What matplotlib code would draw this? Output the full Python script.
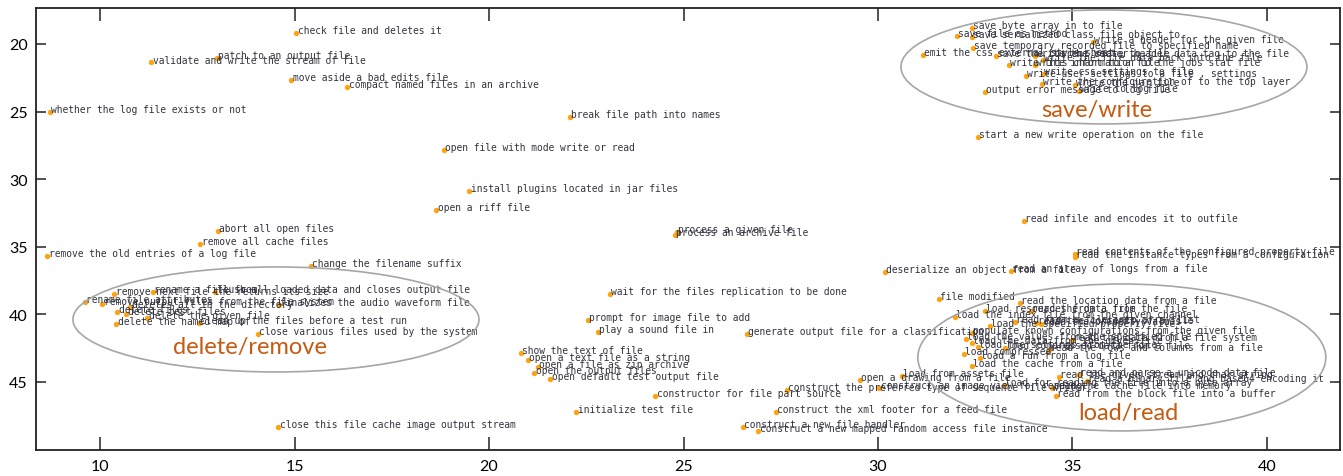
import matplotlib
matplotlib.use('Agg')
import matplotlib.pyplot as plt
from matplotlib.patches import Ellipse

# scattered descriptions outside the three clusters
other_labels = [
    'check file and deletes it', 'patch to an output file', 'validate and write the stream of file',
    'move aside a bad edits file', 'compact named files in an archive', 'whether the log file exists or not',
    'break file path into names', 'open file with mode write or read', 'install plugins located in jar files',
    'open a riff file', 'process a given file', 'process an archive file', 'abort all open files',
    'remove all cache files', 'remove the old entries of a log file', 'change the filename suffix',
    'deserialize an object from a file', 'read an array of longs from a file',
    'read infile and encodes it to outfile', 'read contents of the configured property file',
    'read the instance types from a configuration', 'start a new write operation on the file',
    'wait for the files replication to be done', 'prompt for image file to add', 'play a sound file in',
    'generate output file for a classification', 'show the text of file', 'open a text file as a string',
    'open a file as zip archive', 'open the output files', 'open default test output file',
    'constructor for file part source', 'construct the preferred type of sequence file writer',
    'open a drawing from a file', 'construct an image view for reading', 'load from assets file',
    'initialize test file', 'construct the xml footer for a feed file', 'construct a new file handler',
    'construct a new mapped random access file instance', 'close this file cache image output stream',
]
other_x = [15.04, 13.0, 11.31, 14.91, 16.35, 8.71, 22.08, 18.84, 19.49, 18.64, 24.83, 24.78, 13.03, 12.57,
           8.64, 15.42, 30.18, 33.42, 33.75, 35.06, 35.06, 32.57, 23.11, 22.54, 22.8, 26.63, 20.82, 21.0,
           21.26, 21.16, 21.57, 24.27, 27.66, 29.54, 30.03, 30.62, 22.24, 27.38, 26.53, 26.92, 14.58]
other_y = [19.19, 21.04, 21.37, 22.66, 23.18, 25.03, 25.4, 27.84, 30.87, 32.28, 33.9, 34.13, 33.83, 34.79,
           35.68, 36.42, 36.86, 36.79, 33.09, 35.53, 35.75, 26.88, 38.49, 40.41, 41.3, 41.45, 42.85, 43.37,
           43.89, 44.33, 44.78, 46.04, 45.6, 44.85, 45.44, 44.56, 47.2, 47.2, 48.33, 48.62, 48.33]

delete_labels = [
    'rename a file from', 'flush all loaded data and closes output file', 'remove next file the returns its size',
    'rename file attributes', 'remove output files from the file system', 'finalizes the audio waveform file',
    'deletes all in the directory', 'delete files', 'delete test files', 'delete the given file',
    'clean up the files before a test run', 'delete the named map of', 'close various files used by the system',
]
delete_x = [11.36, 12.96, 10.36, 9.61, 10.05, 14.6, 10.77, 10.44, 10.67, 11.21, 12.54, 10.41, 14.06]
delete_y = [38.34, 38.34, 38.49, 39.08, 39.23, 39.3, 39.45, 39.82, 39.97, 40.27, 40.64, 40.71, 41.45]

save_labels = [
    'save byte array in to file', 'save serialized class file object to', 'save file as method',
    'write a header for the given file', 'save temporary recorded file to specified name',
    'emit the css external style sheet', 'save the current state to file',
    'write the vector header data tag to the file', 'write this chart to a file',
    'write the file data back into the file', 'write information to the jobs stat file',
    'write user settings to a file , settings', 'write css settings to file',
    'write the configuration of to the top layer', 'write the jar file',
    'write to log file', 'output error message to log file',
]
save_x = [32.42, 32.42, 32.03, 35.53, 32.44, 31.16, 33.03, 34.04, 33.37, 34.24, 34.04, 33.8, 34.24, 34.22,
          35.06, 35.17, 32.75]
save_y = [18.82, 19.48, 19.41, 19.85, 20.3, 20.81, 20.89, 20.89, 21.55, 21.18, 21.55, 22.37, 22.22, 22.96,
          23.03, 23.48, 23.55]

load_labels = [
    'file modified', 'read the location data from a file', 'load resources from a file',
    'read the data from the file', 'load the index file from the given channel',
    'read from a file into array list', 'load the specified property file',
    'read the contents of a file', 'read the property values',
    'populate known configurations from the given file', 'load the values from the specified file',
    'load the data from the given file', 'load the settings from the file',
    'load compressed data from a file', 'read the rows and columns from a file',
    'read the data from a file system', 'load compressed', 'load a run from a log file',
    'load the cache from a file', 'read and parse a unicode data file',
    'read the given stream and char string', 'read a binary file and base64 encoding it',
    'load for reading the file into a byte array', 'read the cache file into memory',
    'read from the block file into a buffer',
]
load_x = [31.57, 33.65, 32.75, 33.93, 31.98, 33.52, 32.88, 34.07, 34.2, 32.42, 32.26, 32.42, 32.57, 33.26,
          34.4, 34.99, 32.21, 32.62, 32.42, 35.17, 34.65, 35.37, 33.24, 34.47, 34.58]
load_y = [38.86, 39.16, 39.75, 39.75, 40.2, 40.56, 40.86, 40.64, 40.71, 41.38, 41.82, 42.12, 42.41, 42.49,
          42.63, 41.89, 42.93, 43.22, 43.82, 44.48, 44.63, 44.93, 45.22, 45.44, 46.04]

# cluster outlines: name, centre x, centre y, width, height, label x, label y
clusters = [
    ('save/write', 35.81, 21.70, 10.44, 8.43, 35.62, 24.88),
    ('delete/remove', 14.52, 40.38, 10.44, 7.77, 13.86, 42.41),
    ('load/read', 36.27, 43.19, 10.49, 10.87, 36.43, 47.29),
]

fig = plt.figure(figsize=(13.43, 4.77), dpi=100)
ax = fig.add_axes([36 / 1343, 1 - 450.5 / 477, 1304 / 1343, 441.5 / 477])

labels = other_labels + delete_labels + save_labels + load_labels
xs = other_x + delete_x + save_x + load_x
ys = other_y + delete_y + save_y + load_y

ax.scatter(xs, ys, s=15, color='#FFA30F', linewidths=0, zorder=2)
for t, x, y in zip(labels, xs, ys):
    ax.annotate(t, (x, y), xytext=(1, 2), textcoords='offset points', fontsize=6.9,
                family='DejaVu Sans Mono', color='#33333f', va='center', ha='left',
                annotation_clip=False, clip_on=True, zorder=3)

for name, cx, cy, w, h, lx, ly in clusters:
    ax.add_patch(Ellipse((cx, cy), w, h, fill=False, edgecolor='#a6a6a6', linewidth=1.2, zorder=4))
    ax.text(lx, ly, name, fontsize=17, family='Lato', color='#C55A11', ha='center', va='center', zorder=5)

ax.set_xlim(8.35, 41.88)
ax.set_ylim(50, 17.34)
ax.set_xticks([10, 15, 20, 25, 30, 35, 40])
ax.set_yticks([20, 25, 30, 35, 40, 45])
ax.tick_params(direction='in', width=1.1, top=True, right=True, color='#222222', labelsize=11.5)
ax.tick_params(axis='y', length=7, pad=6)
ax.tick_params(axis='x', length=9.5, pad=7)
for lab in ax.get_xticklabels() + ax.get_yticklabels():
    lab.set_family('Lato')
for s in ax.spines.values():
    s.set_linewidth(1.3)
    s.set_color('#222222')

fig.savefig('out.png', dpi=100)
